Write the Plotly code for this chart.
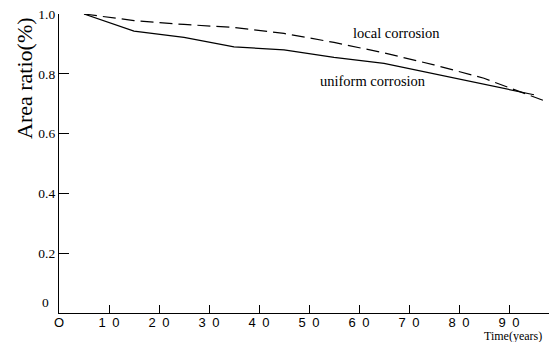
import plotly.graph_objects as go

# Time axis (years) and area-ratio readings for the two corrosion modes
years = [5, 15, 25, 35, 45, 55, 65, 75, 85, 95]
uniform_ratio = [1.0, 0.943, 0.922, 0.89, 0.88, 0.855, 0.835, 0.80, 0.765, 0.73]
local_years = [5, 15, 25, 35, 45, 55, 65, 75, 85, 97]
local_ratio = [1.0, 0.978, 0.965, 0.955, 0.935, 0.905, 0.87, 0.83, 0.785, 0.71]

x_ticks = [10, 20, 30, 40, 50, 60, 70, 80, 90]
x_tick_text = ["1\u20020", "2\u20020", "3\u20020", "4\u20020", "5\u20020",
               "6\u20020", "7\u20020", "8\u20020", "9\u20020"]
y_ticks = [0.2, 0.4, 0.6, 0.8, 1.0]
y_tick_text = ["0.2", "0.4", "0.6", "0.8", "1.0"]

SERIF = "Liberation Serif"
SANS = "Liberation Sans"

fig = go.Figure()
fig.add_trace(go.Scatter(x=years, y=uniform_ratio, mode="lines",
                         line=dict(color="black", width=1.2),
                         showlegend=False, hoverinfo="skip"))
fig.add_trace(go.Scatter(x=local_years, y=local_ratio, mode="lines",
                         line=dict(color="black", width=1.2, dash="13px,6px"),
                         showlegend=False, hoverinfo="skip"))

fig.update_layout(
    width=549, height=342,
    margin=dict(l=59, r=0, t=14, b=29),
    plot_bgcolor="white", paper_bgcolor="white",
    xaxis=dict(range=[0, 98], showgrid=False, zeroline=False,
               showline=True, linecolor="black", linewidth=1.2,
               ticks="inside", ticklen=8, tickcolor="black", tickwidth=1.2,
               tickvals=x_ticks, ticktext=x_tick_text, ticklabelstandoff=-3,
               tickfont=dict(family=SANS, size=13, color="black")),
    yaxis=dict(range=[0, 1.0], showgrid=False, zeroline=False,
               showline=True, linecolor="black", linewidth=1.2,
               ticks="inside", ticklen=10, tickcolor="black", tickwidth=1.2,
               tickvals=y_ticks, ticktext=y_tick_text,
               tickfont=dict(family=SERIF, size=13.5, color="black")),
    annotations=[
        dict(x=0, y=0, xref="x", yref="y", text="O", showarrow=False,
             xanchor="center", yanchor="top", yshift=0,
             font=dict(family=SANS, size=13, color="black")),
        dict(x=0, y=0.035, xref="x", yref="y", text="0", showarrow=False,
             xanchor="right", xshift=-8,
             font=dict(family=SERIF, size=13.5, color="black")),
        dict(x=1, y=0, xref="paper", yref="paper", text="Time(years)",
             showarrow=False, xanchor="left", yanchor="top", xshift=-67, yshift=-14,
             font=dict(family=SERIF, size=12, color="black")),
        dict(x=0, y=0, xref="paper", yref="paper", text="Area ratio(%)",
             showarrow=False, textangle=-90,
             font=dict(family=SERIF, size=22, color="black")),
        dict(x=67.5, y=0.935, xref="x", yref="y", text="local corrosion",
             showarrow=False, font=dict(family=SERIF, size=14.5, color="black")),
        dict(x=62.8, y=0.775, xref="x", yref="y", text="uniform corrosion",
             showarrow=False, font=dict(family=SERIF, size=14.5, color="black")),
    ],
)

# Place the rotated y title by pixel position relative to the plot area
fig.layout.annotations[3].update(x=-35 / 490, y=1 - (78 - 14) / 299,
                                  xanchor="center", yanchor="middle")

fig.write_html("out.html")
